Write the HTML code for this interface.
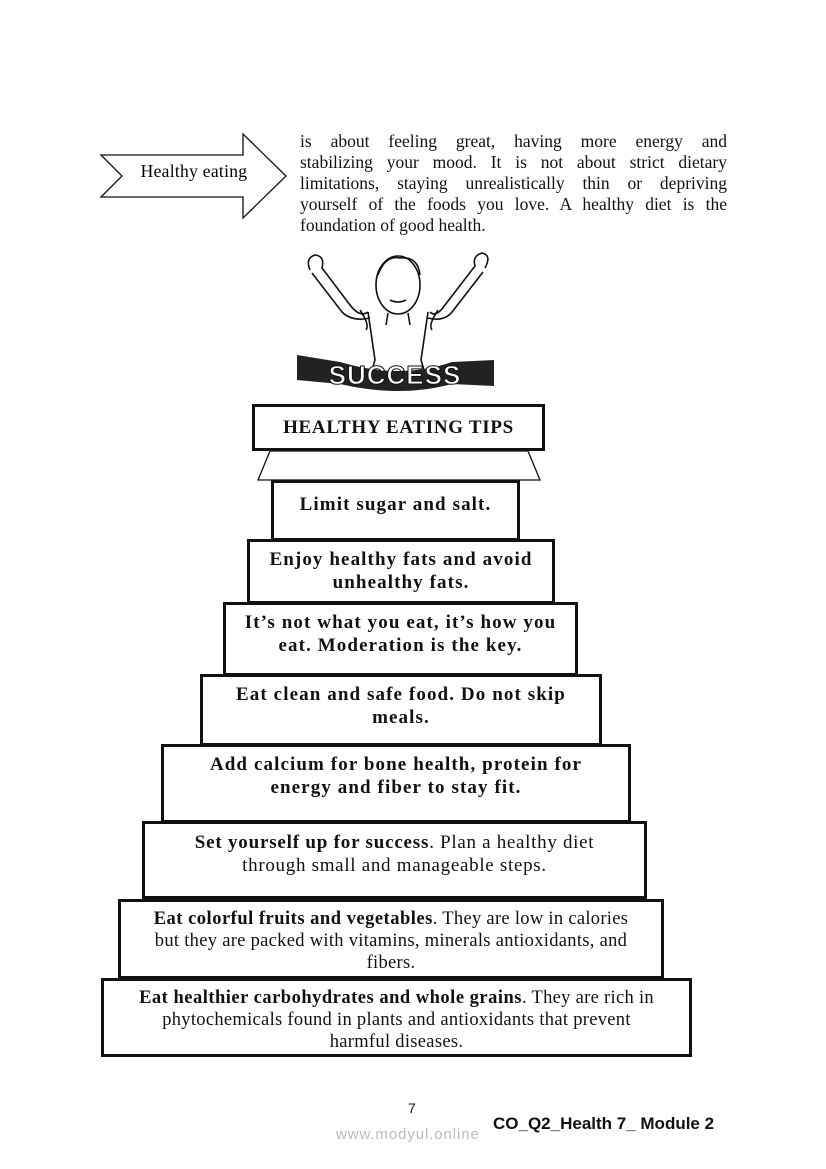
<!DOCTYPE html>
<html><head><meta charset="utf-8"><style>
body{margin:0;width:826px;height:1169px;background:#fff;position:relative;overflow:hidden;font-family:"Liberation Serif",serif;color:#111}
.b{position:absolute;box-sizing:border-box;border:3px solid #111;background:#fff;text-align:center;font-size:19px;line-height:23px;font-weight:bold;letter-spacing:1.1px;padding-top:7px;white-space:nowrap}
.b span{font-weight:normal;letter-spacing:0.7px}
.p{position:absolute;left:300px;top:131px;width:427px;font-size:17.5px;line-height:21px}
.p div{text-align:justify;text-align-last:justify;white-space:normal}
</style></head><body>
<svg width="826" height="1169" style="position:absolute;left:0;top:0">
<polygon points="101,155 243,155 243,134 286,176 243,218 243,197 101,197 122,176" fill="#fff" stroke="#111" stroke-width="1.3"/>
<text x="194" y="177" font-family="Liberation Serif" font-size="17.5" text-anchor="middle" letter-spacing="0.3">Healthy eating</text>
<g fill="none" stroke="#111" stroke-width="1.6">
<path d="M310,270 Q305,258 315,255 Q325,256 322,268 L350,305 Q360,318 368,312"/>
<path d="M312,273 L342,312 Q352,322 370,318"/>
<path d="M485,268 Q492,255 482,253 Q472,256 475,266 L445,305 Q436,318 430,312"/>
<path d="M483,272 L452,312 Q444,322 428,318"/>
<ellipse cx="398" cy="285" rx="22" ry="29"/>
<path d="M378,275 Q385,255 400,258 Q418,256 420,275"/>
<path d="M388,313 L386,325 M408,313 L410,325"/>
<path d="M368,312 Q372,340 375,360 L372,370 M428,312 Q424,340 421,360 L424,370"/>
<path d="M360,310 Q370,325 366,330 M438,310 Q428,325 432,330"/>
<path d="M390,300 Q398,304 406,300"/>
</g>
<path d="M297,355 L340,362 Q400,380 452,362 L494,360 L494,386 L452,384 Q400,398 340,384 L297,380 Z" fill="#222"/>
<text x="395" y="384" font-family="Liberation Sans" font-weight="bold" font-size="26" fill="#fff" stroke="#111" stroke-width="1" text-anchor="middle" letter-spacing="1">SUCCESS</text>
<polygon points="270,451 528,451 540,480 258,480" fill="#fff" stroke="#111" stroke-width="1.3"/>
</svg>
<div class="p">
<div>is about feeling great, having more energy and</div>
<div>stabilizing your mood. It is not about strict dietary</div>
<div>limitations, staying unrealistically thin or depriving</div>
<div>yourself of the foods you love. A healthy diet is the</div>
<div style="text-align-last:left">foundation of good health.</div>
</div>
<div class="b" style="left:252px;top:404px;width:293px;height:47px;font-size:19px;letter-spacing:0.7px;padding-top:9px">HEALTHY EATING TIPS</div>
<div class="b" style="left:271px;top:480px;width:249px;height:61px;padding-top:10px">Limit sugar and salt.</div>
<div class="b" style="left:247px;top:539px;width:308px;height:65px;padding-top:6px">Enjoy healthy fats and avoid<br>unhealthy fats.</div>
<div class="b" style="left:223px;top:602px;width:355px;height:74px;padding-top:6px">It’s not what you eat, it’s how you<br>eat. Moderation is the key.</div>
<div class="b" style="left:200px;top:674px;width:402px;height:72px;padding-top:6px">Eat clean and safe food. Do not skip<br>meals.</div>
<div class="b" style="left:161px;top:744px;width:470px;height:79px;padding-top:6px">Add calcium for bone health, protein for<br>energy and fiber to stay fit.</div>
<div class="b" style="left:142px;top:821px;width:505px;height:78px;padding-top:7px;letter-spacing:0.8px">Set yourself up for success<span>. Plan a healthy diet<br>through small and manageable steps.</span></div>
<div class="b" style="left:118px;top:899px;width:546px;height:80px;padding-top:6px;line-height:22px;letter-spacing:0.5px;font-size:18.5px">Eat colorful fruits and vegetables<span style="letter-spacing:0.3px">. They are low in calories<br>but they are packed with vitamins, minerals antioxidants, and<br>fibers.</span></div>
<div class="b" style="left:101px;top:978px;width:591px;height:79px;padding-top:6px;line-height:22px;letter-spacing:0.5px;font-size:18.5px">Eat healthier carbohydrates and whole grains<span style="letter-spacing:0.3px">. They are rich in<br>phytochemicals found in plants and antioxidants that prevent<br>harmful diseases.</span></div>
<div style="position:absolute;left:408px;top:1100px;font-family:'Liberation Sans',sans-serif;font-size:14px">7</div>
<div style="position:absolute;left:336px;top:1126px;font-family:'Liberation Sans',sans-serif;font-size:15px;color:#bbb;letter-spacing:0.9px">www.modyul.online</div>
<div style="position:absolute;left:493px;top:1114px;font-family:'Liberation Sans',sans-serif;font-size:17px;font-weight:bold">CO_Q2_Health 7_ Module 2</div>
</body></html>
